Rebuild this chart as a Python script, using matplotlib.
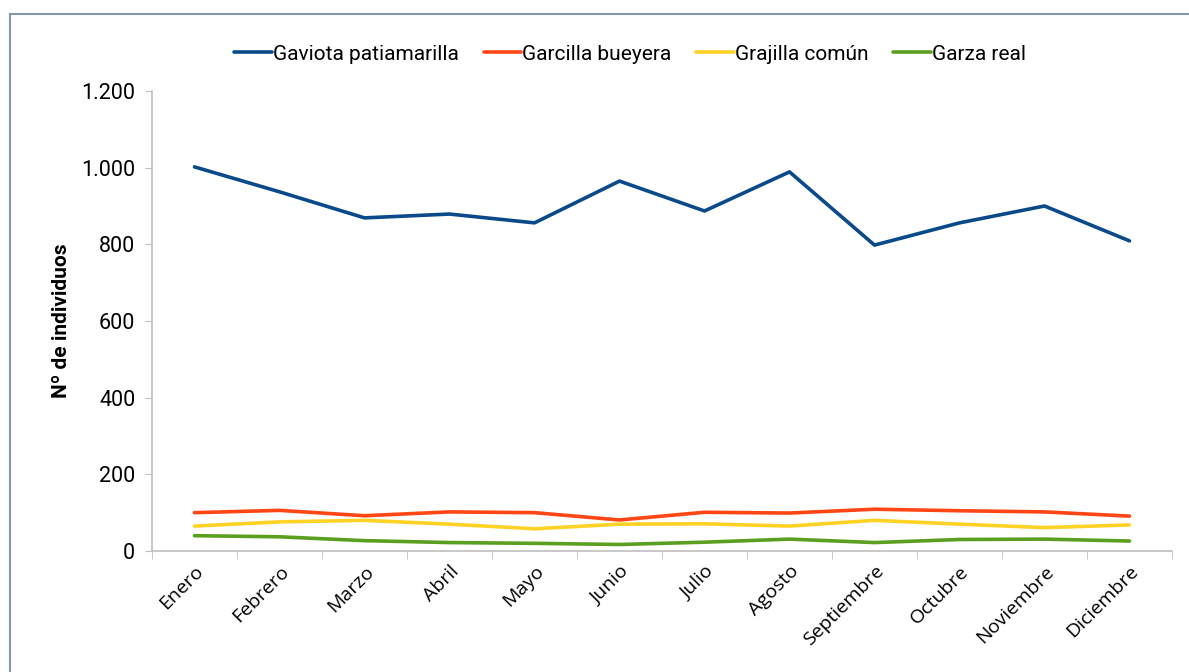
import numpy as np
import matplotlib.pyplot as plt
from matplotlib.lines import Line2D
from matplotlib.ticker import FuncFormatter, FixedLocator

# datos
meses = ["Enero", "Febrero", "Marzo", "Abril", "Mayo", "Junio", "Julio",
         "Agosto", "Septiembre", "Octubre", "Noviembre", "Diciembre"]
gaviota = [1002, 937, 869, 879, 856, 965, 887, 989, 798, 856, 900, 809]
garcilla = [100, 106, 92, 102, 100, 81, 101, 99, 109, 105, 102, 91]
grajilla = [65, 76, 80, 70, 58, 70, 71, 65, 80, 70, 61, 68]
garza = [40, 37, 27, 22, 20, 17, 23, 31, 22, 30, 31, 26]

series = [("Gaviota patiamarilla", gaviota, "#0a4a8a"),
          ("Garcilla bueyera", garcilla, "#ff4614"),
          ("Grajilla común", grajilla, "#ffd226"),
          ("Garza real", garza, "#5a9f1f")]

plt.rcParams['font.family'] = ['Roboto', 'DejaVu Sans']

fig = plt.figure(figsize=(11.89, 6.72), dpi=100)
ax = fig.add_axes([152/1189, 1-551/672, (1172-152)/1189, (551-91)/672])

x = np.arange(len(meses))
for nombre, vals, color in series:
    ax.plot(x, vals, color=color, lw=2.6, label=nombre, solid_capstyle='round')

ax.set_xlim(-0.5, len(meses) - 0.5)
ax.set_ylim(0, 1200)
ax.set_yticks(np.arange(0, 1201, 200))
ax.yaxis.set_major_formatter(FuncFormatter(lambda v, p: f"{int(v):,}".replace(",", ".")))
ax.tick_params(axis='y', labelsize=15.5, length=5, color='#bfbfbf', pad=7)

ax.set_xticks(x)
ax.set_xticklabels(meses, rotation=45, ha='right', rotation_mode='anchor',
                   fontsize=14, family=['Open Sans', 'DejaVu Sans'])
ax.tick_params(axis='x', which='major', length=0, pad=8)
ax.xaxis.set_minor_locator(FixedLocator(np.arange(-0.5, len(meses), 1)))
ax.tick_params(axis='x', which='minor', length=6, color='#bfbfbf')

for s in ['top', 'right']:
    ax.spines[s].set_visible(False)
for s in ['left', 'bottom']:
    ax.spines[s].set_color('#bfbfbf')
    ax.spines[s].set_linewidth(1.2)

ax.set_ylabel("Nº de individuos", fontsize=15, fontweight='bold', labelpad=7)

fig.legend(loc='center', bbox_to_anchor=(630/1189, 1-54/672), ncol=4, frameon=False,
           fontsize=15, handlelength=1.8, handletextpad=0.05, columnspacing=1.2)

# marco
fig.add_artist(Line2D([10/1189, 10/1189], [0, 1-14/672], transform=fig.transFigure,
                      color='#8797ab', lw=1.5))
fig.add_artist(Line2D([10/1189, 1], [1-14/672, 1-14/672], transform=fig.transFigure,
                      color='#8797ab', lw=1.5))

fig.savefig("out.png", dpi=100)
